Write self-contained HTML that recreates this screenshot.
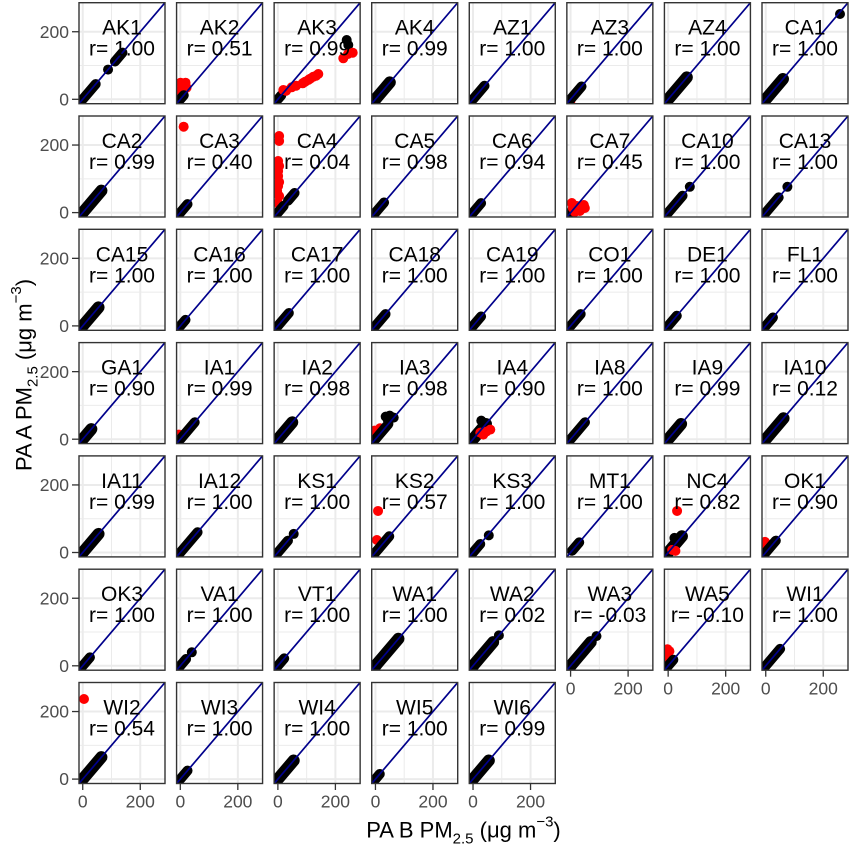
<!DOCTYPE html>
<html><head><meta charset="utf-8"><style>
html,body{margin:0;padding:0;background:#fff}
svg{display:block}
text{font-family:"Liberation Sans",Arial,sans-serif}
.k{stroke:#000;stroke-width:10;stroke-linecap:round}
.w{stroke:#000;stroke-width:12;stroke-linecap:round}
.r{fill:#ff0000}
.p{fill:#000}
.t{font-size:21px;text-anchor:middle;fill:#000}
.yl{font-size:17.5px;text-anchor:end;fill:#4d4d4d}
.xl{font-size:17.5px;text-anchor:middle;fill:#4d4d4d}
.tk{stroke:#333;stroke-width:1.3}
</style></head><body>
<svg width="850" height="850" viewBox="0 0 850 850" xmlns="http://www.w3.org/2000/svg">
<defs>
<clipPath id="c"><rect x="0" y="0" width="86" height="101"/></clipPath>
<g id="bg">
<rect x="0" y="0" width="86" height="101" fill="#fff"/>
<line x1="32.5" y1="0" x2="32.5" y2="101" stroke="#ebebeb" stroke-width="1"/>
<line x1="0" y1="62.82" x2="86" y2="62.82" stroke="#ebebeb" stroke-width="1"/>
<line x1="3.74" y1="0" x2="3.74" y2="101" stroke="#ebebeb" stroke-width="2"/>
<line x1="61.26" y1="0" x2="61.26" y2="101" stroke="#ebebeb" stroke-width="2"/>
<line x1="0" y1="96.6" x2="86" y2="96.6" stroke="#ebebeb" stroke-width="2"/>
<line x1="0" y1="29.04" x2="86" y2="29.04" stroke="#ebebeb" stroke-width="2"/>
</g>
<line id="d" x1="0" y1="101" x2="86" y2="0" stroke="#00008b" stroke-width="1.7"/>
<rect id="b" x="0" y="0" width="86" height="101" fill="none" stroke="#333" stroke-width="1.4"/>
</defs>
<rect width="850" height="850" fill="#fff"/>

<!-- Row 0 -->
<g transform="translate(79,2.7)"><use href="#bg"/><g clip-path="url(#c)">
<line class="k" x1="3.74" y1="96.6" x2="16.68" y2="81.4"/>
<circle class="p" cx="29.05" cy="66.87" r="5"/>
<line class="k" x1="35.95" y1="58.77" x2="43.43" y2="49.98"/>
<use href="#d"/></g><text class="t" x="43" y="32">AK1</text><text class="t" x="43" y="53">r= 1.00</text><use href="#b"/></g>

<g transform="translate(176.57,2.7)"><use href="#bg"/><g clip-path="url(#c)">
<circle class="r" cx="4" cy="80" r="5"/><circle class="r" cx="9" cy="80" r="5"/><circle class="r" cx="5" cy="86" r="5"/><circle class="r" cx="10" cy="85" r="5"/><circle class="r" cx="3" cy="90" r="5"/><circle class="r" cx="7" cy="83" r="5"/>
<line class="k" x1="3.74" y1="96.6" x2="7.19" y2="92.55"/>
<use href="#d"/></g><text class="t" x="43" y="32">AK2</text><text class="t" x="43" y="53">r= 0.51</text><use href="#b"/></g>

<g transform="translate(274.14,2.7)"><use href="#bg"/><g clip-path="url(#c)">
<line class="k" x1="3.74" y1="96.6" x2="7.19" y2="92.55"/>
<circle class="r" cx="9.16" cy="87.3" r="5"/><circle class="r" cx="12" cy="88" r="5"/><circle class="r" cx="17.56" cy="84.6" r="5"/><circle class="r" cx="22" cy="83" r="5"/><circle class="r" cx="28.56" cy="80.6" r="5"/><circle class="r" cx="31" cy="79" r="5"/><circle class="r" cx="34.16" cy="77.3" r="5"/><circle class="r" cx="36" cy="76" r="5"/><circle class="r" cx="39.16" cy="74" r="5"/><circle class="r" cx="42" cy="73" r="5"/><circle class="r" cx="44.16" cy="71.3" r="5"/>
<circle class="p" cx="72.56" cy="37.3" r="5"/><circle class="p" cx="74.16" cy="42.3" r="5"/>
<circle class="r" cx="69.16" cy="55.6" r="5"/><circle class="r" cx="73.86" cy="51.3" r="5"/><circle class="r" cx="78.56" cy="50" r="5"/>
<use href="#d"/></g><text class="t" x="43" y="32">AK3</text><text class="t" x="43" y="53">r= 0.99</text><use href="#b"/></g>

<g transform="translate(371.71,2.7)"><use href="#bg"/><g clip-path="url(#c)">
<line class="w" x1="3.74" y1="96.6" x2="18.12" y2="79.71"/>
<use href="#d"/></g><text class="t" x="43" y="32">AK4</text><text class="t" x="43" y="53">r= 0.99</text><use href="#b"/></g>

<g transform="translate(469.28,2.7)"><use href="#bg"/><g clip-path="url(#c)">
<line class="k" x1="3.74" y1="96.6" x2="15.24" y2="83.09"/>
<use href="#d"/></g><text class="t" x="43" y="32">AZ1</text><text class="t" x="43" y="53">r= 1.00</text><use href="#b"/></g>

<g transform="translate(566.85,2.7)"><use href="#bg"/><g clip-path="url(#c)">
<circle class="r" cx="3.5" cy="98.5" r="5"/>
<line class="k" x1="3.74" y1="96.6" x2="14.67" y2="83.76"/>
<use href="#d"/></g><text class="t" x="43" y="32">AZ3</text><text class="t" x="43" y="53">r= 1.00</text><use href="#b"/></g>

<g transform="translate(664.42,2.7)"><use href="#bg"/><g clip-path="url(#c)">
<line class="w" x1="3.74" y1="96.6" x2="22.43" y2="74.64"/>
<use href="#d"/></g><text class="t" x="43" y="32">AZ4</text><text class="t" x="43" y="53">r= 1.00</text><use href="#b"/></g>

<g transform="translate(762,2.7)"><use href="#bg"/><g clip-path="url(#c)">
<line class="w" x1="3.74" y1="96.6" x2="21" y2="76.33"/>
<circle class="p" cx="78" cy="11.3" r="5"/>
<use href="#d"/></g><text class="t" x="43" y="32">CA1</text><text class="t" x="43" y="53">r= 1.00</text><use href="#b"/></g>

<!-- Row 1 -->
<g transform="translate(79,116)"><use href="#bg"/><g clip-path="url(#c)">
<circle class="r" cx="3.5" cy="99" r="5"/>
<line class="w" x1="3.74" y1="96.6" x2="22.43" y2="74.64"/>
<use href="#d"/></g><text class="t" x="43" y="32">CA2</text><text class="t" x="43" y="53">r= 0.99</text><use href="#b"/></g>

<g transform="translate(176.57,116)"><use href="#bg"/><g clip-path="url(#c)">
<circle class="r" cx="7.1" cy="10.7" r="5"/>
<line class="k" x1="3.74" y1="96.6" x2="10.93" y2="88.16"/>
<use href="#d"/></g><text class="t" x="43" y="32">CA3</text><text class="t" x="43" y="53">r= 0.40</text><use href="#b"/></g>

<g transform="translate(274.14,116)"><use href="#bg"/><g clip-path="url(#c)">
<circle class="r" cx="5" cy="20" r="5"/><circle class="r" cx="5" cy="25" r="5"/><circle class="r" cx="4" cy="45" r="5"/><circle class="r" cx="5" cy="50" r="5"/><circle class="r" cx="4" cy="55" r="5"/><circle class="r" cx="4" cy="60" r="5"/><circle class="r" cx="5" cy="66" r="5"/><circle class="r" cx="4" cy="70" r="5"/><circle class="r" cx="3" cy="75" r="5"/><circle class="r" cx="5" cy="80" r="5"/><circle class="r" cx="4" cy="87" r="5"/><circle class="r" cx="6" cy="92" r="5"/>
<line class="k" x1="3.74" y1="96.6" x2="9.49" y2="89.84"/>
<line class="k" x1="13.81" y1="84.78" x2="20.42" y2="77"/>
<use href="#d"/></g><text class="t" x="43" y="32">CA4</text><text class="t" x="43" y="53">r= 0.04</text><use href="#b"/></g>

<g transform="translate(371.71,116)"><use href="#bg"/><g clip-path="url(#c)">
<line class="k" x1="3.74" y1="96.6" x2="12.37" y2="86.47"/>
<use href="#d"/></g><text class="t" x="43" y="32">CA5</text><text class="t" x="43" y="53">r= 0.98</text><use href="#b"/></g>

<g transform="translate(469.28,116)"><use href="#bg"/><g clip-path="url(#c)">
<line class="k" x1="3.74" y1="96.6" x2="11.79" y2="87.14"/>
<use href="#d"/></g><text class="t" x="43" y="32">CA6</text><text class="t" x="43" y="53">r= 0.94</text><use href="#b"/></g>

<g transform="translate(566.85,116)"><use href="#bg"/><g clip-path="url(#c)">
<line class="k" x1="3.74" y1="96.6" x2="6" y2="94"/>
<circle class="r" cx="6" cy="92" r="5"/><circle class="r" cx="10" cy="90" r="5"/><circle class="r" cx="14" cy="91" r="5"/><circle class="r" cx="17" cy="89" r="5"/><circle class="r" cx="8" cy="96" r="5"/><circle class="r" cx="13" cy="95" r="5"/><circle class="r" cx="5" cy="87" r="5"/><circle class="r" cx="18" cy="92" r="5"/>
<use href="#d"/></g><text class="t" x="43" y="32">CA7</text><text class="t" x="43" y="53">r= 0.45</text><use href="#b"/></g>

<g transform="translate(664.42,116)"><use href="#bg"/><g clip-path="url(#c)">
<line class="k" x1="3.74" y1="96.6" x2="18.12" y2="79.71"/>
<circle class="p" cx="25.4" cy="70.8" r="5"/>
<use href="#d"/></g><text class="t" x="43" y="32">CA10</text><text class="t" x="43" y="53">r= 1.00</text><use href="#b"/></g>

<g transform="translate(762,116)"><use href="#bg"/><g clip-path="url(#c)">
<line class="k" x1="3.74" y1="96.6" x2="16.68" y2="81.4"/>
<circle class="p" cx="25.4" cy="70.8" r="5"/>
<use href="#d"/></g><text class="t" x="43" y="32">CA13</text><text class="t" x="43" y="53">r= 1.00</text><use href="#b"/></g>

<!-- Row 2 -->
<g transform="translate(79,229.3)"><use href="#bg"/><g clip-path="url(#c)">
<line class="w" x1="3.74" y1="96.6" x2="19.56" y2="78.02"/>
<use href="#d"/></g><text class="t" x="43" y="32">CA15</text><text class="t" x="43" y="53">r= 1.00</text><use href="#b"/></g>

<g transform="translate(176.57,229.3)"><use href="#bg"/><g clip-path="url(#c)">
<line class="k" x1="3.74" y1="96.6" x2="8.92" y2="90.52"/>
<use href="#d"/></g><text class="t" x="43" y="32">CA16</text><text class="t" x="43" y="53">r= 1.00</text><use href="#b"/></g>

<g transform="translate(274.14,229.3)"><use href="#bg"/><g clip-path="url(#c)">
<line class="k" x1="3.74" y1="96.6" x2="14.67" y2="83.76"/>
<use href="#d"/></g><text class="t" x="43" y="32">CA17</text><text class="t" x="43" y="53">r= 1.00</text><use href="#b"/></g>

<g transform="translate(371.71,229.3)"><use href="#bg"/><g clip-path="url(#c)">
<line class="k" x1="3.74" y1="96.6" x2="13.81" y2="84.78"/>
<use href="#d"/></g><text class="t" x="43" y="32">CA18</text><text class="t" x="43" y="53">r= 1.00</text><use href="#b"/></g>

<g transform="translate(469.28,229.3)"><use href="#bg"/><g clip-path="url(#c)">
<line class="k" x1="3.74" y1="96.6" x2="11.79" y2="87.14"/>
<use href="#d"/></g><text class="t" x="43" y="32">CA19</text><text class="t" x="43" y="53">r= 1.00</text><use href="#b"/></g>

<g transform="translate(566.85,229.3)"><use href="#bg"/><g clip-path="url(#c)">
<line class="k" x1="3.74" y1="96.6" x2="13.81" y2="84.78"/>
<use href="#d"/></g><text class="t" x="43" y="32">CO1</text><text class="t" x="43" y="53">r= 1.00</text><use href="#b"/></g>

<g transform="translate(664.42,229.3)"><use href="#bg"/><g clip-path="url(#c)">
<line class="k" x1="3.74" y1="96.6" x2="12.37" y2="86.47"/>
<use href="#d"/></g><text class="t" x="43" y="32">DE1</text><text class="t" x="43" y="53">r= 1.00</text><use href="#b"/></g>

<g transform="translate(762,229.3)"><use href="#bg"/><g clip-path="url(#c)">
<line class="k" x1="3.74" y1="96.6" x2="10.93" y2="88.16"/>
<use href="#d"/></g><text class="t" x="43" y="32">FL1</text><text class="t" x="43" y="53">r= 1.00</text><use href="#b"/></g>

<!-- Row 3 -->
<g transform="translate(79,342.6)"><use href="#bg"/><g clip-path="url(#c)">
<circle class="r" cx="2" cy="97" r="5"/>
<line class="w" x1="3.74" y1="96.6" x2="12.37" y2="86.47"/>
<use href="#d"/></g><text class="t" x="43" y="32">GA1</text><text class="t" x="43" y="53">r= 0.90</text><use href="#b"/></g>

<g transform="translate(176.57,342.6)"><use href="#bg"/><g clip-path="url(#c)">
<circle class="r" cx="2.5" cy="92" r="5"/>
<line class="k" x1="3.74" y1="96.6" x2="18.12" y2="79.71"/>
<use href="#d"/></g><text class="t" x="43" y="32">IA1</text><text class="t" x="43" y="53">r= 0.99</text><use href="#b"/></g>

<g transform="translate(274.14,342.6)"><use href="#bg"/><g clip-path="url(#c)">
<line class="w" x1="3.74" y1="96.6" x2="18.12" y2="79.71"/>
<use href="#d"/></g><text class="t" x="43" y="32">IA2</text><text class="t" x="43" y="53">r= 0.98</text><use href="#b"/></g>

<g transform="translate(371.71,342.6)"><use href="#bg"/><g clip-path="url(#c)">
<circle class="r" cx="8.3" cy="85.7" r="5"/><circle class="r" cx="3" cy="88" r="5"/>
<line class="k" x1="3.74" y1="96.6" x2="16.68" y2="81.4"/>
<circle class="p" cx="14" cy="74" r="5"/><circle class="p" cx="18" cy="73" r="5"/><circle class="p" cx="22" cy="75" r="5"/><circle class="p" cx="16" cy="77" r="5"/>
<use href="#d"/></g><text class="t" x="43" y="32">IA3</text><text class="t" x="43" y="53">r= 0.98</text><use href="#b"/></g>

<g transform="translate(469.28,342.6)"><use href="#bg"/><g clip-path="url(#c)">
<line class="w" x1="3.74" y1="96.6" x2="16.68" y2="81.4"/>
<circle class="p" cx="12" cy="78" r="5"/>
<circle class="r" cx="11" cy="90" r="5"/><circle class="r" cx="17" cy="89" r="5"/><circle class="r" cx="21" cy="87" r="5"/><circle class="r" cx="14" cy="92" r="5"/>
<use href="#d"/></g><text class="t" x="43" y="32">IA4</text><text class="t" x="43" y="53">r= 0.90</text><use href="#b"/></g>

<g transform="translate(566.85,342.6)"><use href="#bg"/><g clip-path="url(#c)">
<line class="k" x1="3.74" y1="96.6" x2="18.12" y2="79.71"/>
<use href="#d"/></g><text class="t" x="43" y="32">IA8</text><text class="t" x="43" y="53">r= 1.00</text><use href="#b"/></g>

<g transform="translate(664.42,342.6)"><use href="#bg"/><g clip-path="url(#c)">
<line class="w" x1="3.74" y1="96.6" x2="16.68" y2="81.4"/>
<use href="#d"/></g><text class="t" x="43" y="32">IA9</text><text class="t" x="43" y="53">r= 0.99</text><use href="#b"/></g>

<g transform="translate(762,342.6)"><use href="#bg"/><g clip-path="url(#c)">
<line class="w" x1="3.74" y1="96.6" x2="21.57" y2="75.66"/>
<use href="#d"/></g><text class="t" x="43" y="32">IA10</text><text class="t" x="43" y="53">r= 0.12</text><use href="#b"/></g>

<!-- Row 4 -->
<g transform="translate(79,455.9)"><use href="#bg"/><g clip-path="url(#c)">
<line class="w" x1="3.74" y1="96.6" x2="19.56" y2="78.02"/>
<use href="#d"/></g><text class="t" x="43" y="32">IA11</text><text class="t" x="43" y="53">r= 0.99</text><use href="#b"/></g>

<g transform="translate(176.57,455.9)"><use href="#bg"/><g clip-path="url(#c)">
<line class="k" x1="3.74" y1="96.6" x2="21" y2="76.33"/>
<use href="#d"/></g><text class="t" x="43" y="32">IA12</text><text class="t" x="43" y="53">r= 1.00</text><use href="#b"/></g>

<g transform="translate(274.14,455.9)"><use href="#bg"/><g clip-path="url(#c)">
<line class="k" x1="3.74" y1="96.6" x2="13.81" y2="84.78"/>
<circle class="p" cx="19.56" cy="78.02" r="5"/>
<use href="#d"/></g><text class="t" x="43" y="32">KS1</text><text class="t" x="43" y="53">r= 1.00</text><use href="#b"/></g>

<g transform="translate(371.71,455.9)"><use href="#bg"/><g clip-path="url(#c)">
<circle class="r" cx="6.33" cy="55.05" r="5"/><circle class="r" cx="5.18" cy="84.1" r="5"/>
<line class="k" x1="3.74" y1="96.6" x2="17.54" y2="80.39"/>
<use href="#d"/></g><text class="t" x="43" y="32">KS2</text><text class="t" x="43" y="53">r= 0.57</text><use href="#b"/></g>

<g transform="translate(469.28,455.9)"><use href="#bg"/><g clip-path="url(#c)">
<line class="k" x1="3.74" y1="96.6" x2="10.93" y2="88.16"/>
<circle class="p" cx="19.5" cy="79.5" r="5"/>
<use href="#d"/></g><text class="t" x="43" y="32">KS3</text><text class="t" x="43" y="53">r= 1.00</text><use href="#b"/></g>

<g transform="translate(566.85,455.9)"><use href="#bg"/><g clip-path="url(#c)">
<line class="k" x1="5.2" y1="94.9" x2="12.37" y2="86.47"/>
<use href="#d"/></g><text class="t" x="43" y="32">MT1</text><text class="t" x="43" y="53">r= 1.00</text><use href="#b"/></g>

<g transform="translate(664.42,455.9)"><use href="#bg"/><g clip-path="url(#c)">
<circle class="r" cx="12.66" cy="55.05" r="5"/>
<line class="w" x1="3.74" y1="96.6" x2="17.54" y2="80.39"/>
<circle class="p" cx="10" cy="82" r="5"/>
<circle class="r" cx="7.77" cy="94" r="5"/><circle class="r" cx="11" cy="95" r="5"/>
<use href="#d"/></g><text class="t" x="43" y="32">NC4</text><text class="t" x="43" y="53">r= 0.82</text><use href="#b"/></g>

<g transform="translate(762,455.9)"><use href="#bg"/><g clip-path="url(#c)">
<circle class="r" cx="3" cy="86" r="5"/><circle class="r" cx="4" cy="90" r="5"/><circle class="r" cx="6" cy="93" r="5"/>
<line class="k" x1="3.74" y1="96.6" x2="13.81" y2="84.78"/>
<use href="#d"/></g><text class="t" x="43" y="32">OK1</text><text class="t" x="43" y="53">r= 0.90</text><use href="#b"/></g>

<!-- Row 5 -->
<g transform="translate(79,569.2)"><use href="#bg"/><g clip-path="url(#c)">
<line class="k" x1="3.74" y1="96.6" x2="10.93" y2="88.16"/>
<use href="#d"/></g><text class="t" x="43" y="32">OK3</text><text class="t" x="43" y="53">r= 1.00</text><use href="#b"/></g>

<g transform="translate(176.57,569.2)"><use href="#bg"/><g clip-path="url(#c)">
<line class="k" x1="3.74" y1="96.6" x2="9.49" y2="89.84"/>
<circle class="p" cx="15.24" cy="83.09" r="5"/>
<use href="#d"/></g><text class="t" x="43" y="32">VA1</text><text class="t" x="43" y="53">r= 1.00</text><use href="#b"/></g>

<g transform="translate(274.14,569.2)"><use href="#bg"/><g clip-path="url(#c)">
<line class="k" x1="3.74" y1="96.6" x2="10.07" y2="89.17"/>
<use href="#d"/></g><text class="t" x="43" y="32">VT1</text><text class="t" x="43" y="53">r= 1.00</text><use href="#b"/></g>

<g transform="translate(371.71,569.2)"><use href="#bg"/><g clip-path="url(#c)">
<line class="w" x1="3.74" y1="96.6" x2="26.75" y2="69.58"/>
<use href="#d"/></g><text class="t" x="43" y="32">WA1</text><text class="t" x="43" y="53">r= 1.00</text><use href="#b"/></g>

<g transform="translate(469.28,569.2)"><use href="#bg"/><g clip-path="url(#c)">
<line class="w" x1="3.74" y1="96.6" x2="23.87" y2="72.95"/>
<circle class="p" cx="29.62" cy="66.2" r="5"/>
<use href="#d"/></g><text class="t" x="43" y="32">WA2</text><text class="t" x="43" y="53">r= 0.02</text><use href="#b"/></g>

<g transform="translate(566.85,569.2)"><use href="#bg"/><g clip-path="url(#c)">
<line class="w" x1="3.74" y1="96.6" x2="23.87" y2="72.95"/>
<circle class="p" cx="29.62" cy="66.9" r="5"/>
<use href="#d"/></g><text class="t" x="43" y="32">WA3</text><text class="t" x="43" y="53">r= -0.03</text><use href="#b"/></g>

<g transform="translate(664.42,569.2)"><use href="#bg"/><g clip-path="url(#c)">
<circle class="r" cx="3" cy="80" r="5"/><circle class="r" cx="3" cy="84" r="5"/><circle class="r" cx="3" cy="88" r="5"/><circle class="r" cx="4" cy="92" r="5"/><circle class="r" cx="5" cy="82" r="5"/>
<line class="k" x1="3.74" y1="96.6" x2="8.92" y2="90.52"/>
<use href="#d"/></g><text class="t" x="43" y="32">WA5</text><text class="t" x="43" y="53">r= -0.10</text><use href="#b"/></g>

<g transform="translate(762,569.2)"><use href="#bg"/><g clip-path="url(#c)">
<line class="k" x1="3.74" y1="96.6" x2="18.12" y2="79.71"/>
<use href="#d"/></g><text class="t" x="43" y="32">WI1</text><text class="t" x="43" y="53">r= 1.00</text><use href="#b"/></g>

<!-- Row 6 -->
<g transform="translate(79,682.5)"><use href="#bg"/><g clip-path="url(#c)">
<circle class="r" cx="5" cy="16.5" r="5"/>
<line class="w" x1="3.74" y1="96.6" x2="22.43" y2="74.64"/>
<use href="#d"/></g><text class="t" x="43" y="32">WI2</text><text class="t" x="43" y="53">r= 0.54</text><use href="#b"/></g>

<g transform="translate(176.57,682.5)"><use href="#bg"/><g clip-path="url(#c)">
<line class="k" x1="3.74" y1="96.6" x2="10.93" y2="88.16"/>
<use href="#d"/></g><text class="t" x="43" y="32">WI3</text><text class="t" x="43" y="53">r= 1.00</text><use href="#b"/></g>

<g transform="translate(274.14,682.5)"><use href="#bg"/><g clip-path="url(#c)">
<line class="w" x1="3.74" y1="96.6" x2="19.56" y2="78.02"/>
<use href="#d"/></g><text class="t" x="43" y="32">WI4</text><text class="t" x="43" y="53">r= 1.00</text><use href="#b"/></g>

<g transform="translate(371.71,682.5)"><use href="#bg"/><g clip-path="url(#c)">
<line class="k" x1="3.74" y1="96.6" x2="8.05" y2="91.53"/>
<use href="#d"/></g><text class="t" x="43" y="32">WI5</text><text class="t" x="43" y="53">r= 1.00</text><use href="#b"/></g>

<g transform="translate(469.28,682.5)"><use href="#bg"/><g clip-path="url(#c)">
<line class="w" x1="3.74" y1="96.6" x2="19.56" y2="78.02"/>
<use href="#d"/></g><text class="t" x="43" y="32">WI6</text><text class="t" x="43" y="53">r= 0.99</text><use href="#b"/></g>

<!-- Y axis ticks and labels -->
<g class="tk">
<line x1="72" y1="31.74" x2="79" y2="31.74"/><line x1="72" y1="99.3" x2="79" y2="99.3"/>
<line x1="72" y1="145.04" x2="79" y2="145.04"/><line x1="72" y1="212.6" x2="79" y2="212.6"/>
<line x1="72" y1="258.34" x2="79" y2="258.34"/><line x1="72" y1="325.9" x2="79" y2="325.9"/>
<line x1="72" y1="371.64" x2="79" y2="371.64"/><line x1="72" y1="439.2" x2="79" y2="439.2"/>
<line x1="72" y1="484.94" x2="79" y2="484.94"/><line x1="72" y1="552.5" x2="79" y2="552.5"/>
<line x1="72" y1="598.24" x2="79" y2="598.24"/><line x1="72" y1="665.8" x2="79" y2="665.8"/>
<line x1="72" y1="711.54" x2="79" y2="711.54"/><line x1="72" y1="779.1" x2="79" y2="779.1"/>
</g>
<g>
<text class="yl" x="69" y="37.9">200</text><text class="yl" x="69" y="105.4">0</text>
<text class="yl" x="69" y="151.2">200</text><text class="yl" x="69" y="218.7">0</text>
<text class="yl" x="69" y="264.5">200</text><text class="yl" x="69" y="332">0</text>
<text class="yl" x="69" y="377.8">200</text><text class="yl" x="69" y="445.3">0</text>
<text class="yl" x="69" y="491.1">200</text><text class="yl" x="69" y="558.6">0</text>
<text class="yl" x="69" y="604.4">200</text><text class="yl" x="69" y="671.9">0</text>
<text class="yl" x="69" y="717.7">200</text><text class="yl" x="69" y="785.2">0</text>
</g>

<!-- X axis ticks and labels -->
<g class="tk">
<line x1="82.74" y1="783.5" x2="82.74" y2="790"/><line x1="140.26" y1="783.5" x2="140.26" y2="790"/>
<line x1="180.31" y1="783.5" x2="180.31" y2="790"/><line x1="237.83" y1="783.5" x2="237.83" y2="790"/>
<line x1="277.88" y1="783.5" x2="277.88" y2="790"/><line x1="335.4" y1="783.5" x2="335.4" y2="790"/>
<line x1="375.45" y1="783.5" x2="375.45" y2="790"/><line x1="432.97" y1="783.5" x2="432.97" y2="790"/>
<line x1="473.02" y1="783.5" x2="473.02" y2="790"/><line x1="530.54" y1="783.5" x2="530.54" y2="790"/>
<line x1="570.59" y1="670.2" x2="570.59" y2="676.7"/><line x1="628.11" y1="670.2" x2="628.11" y2="676.7"/>
<line x1="668.16" y1="670.2" x2="668.16" y2="676.7"/><line x1="725.68" y1="670.2" x2="725.68" y2="676.7"/>
<line x1="765.74" y1="670.2" x2="765.74" y2="676.7"/><line x1="823.26" y1="670.2" x2="823.26" y2="676.7"/>
</g>
<g>
<text class="xl" x="82.74" y="807.7">0</text><text class="xl" x="140.26" y="807.7">200</text>
<text class="xl" x="180.31" y="807.7">0</text><text class="xl" x="237.83" y="807.7">200</text>
<text class="xl" x="277.88" y="807.7">0</text><text class="xl" x="335.4" y="807.7">200</text>
<text class="xl" x="375.45" y="807.7">0</text><text class="xl" x="432.97" y="807.7">200</text>
<text class="xl" x="473.02" y="807.7">0</text><text class="xl" x="530.54" y="807.7">200</text>
<text class="xl" x="570.59" y="694.4">0</text><text class="xl" x="628.11" y="694.4">200</text>
<text class="xl" x="668.16" y="694.4">0</text><text class="xl" x="725.68" y="694.4">200</text>
<text class="xl" x="765.74" y="694.4">0</text><text class="xl" x="823.26" y="694.4">200</text>
</g>

<!-- Axis titles -->
<text x="463.5" y="837.3" text-anchor="middle" font-size="22" fill="#000">PA B PM<tspan font-size="15" dy="6">2.5</tspan><tspan dy="-6"> (μg m</tspan><tspan font-size="15" dy="-10.6">−3</tspan><tspan dy="10.6">)</tspan></text>
<text transform="translate(31.7,375) rotate(-90)" text-anchor="middle" font-size="22" fill="#000">PA A PM<tspan font-size="15" dy="6">2.5</tspan><tspan dy="-6"> (μg m</tspan><tspan font-size="15" dy="-10.6">−3</tspan><tspan dy="10.6">)</tspan></text>
</svg>
</body></html>
